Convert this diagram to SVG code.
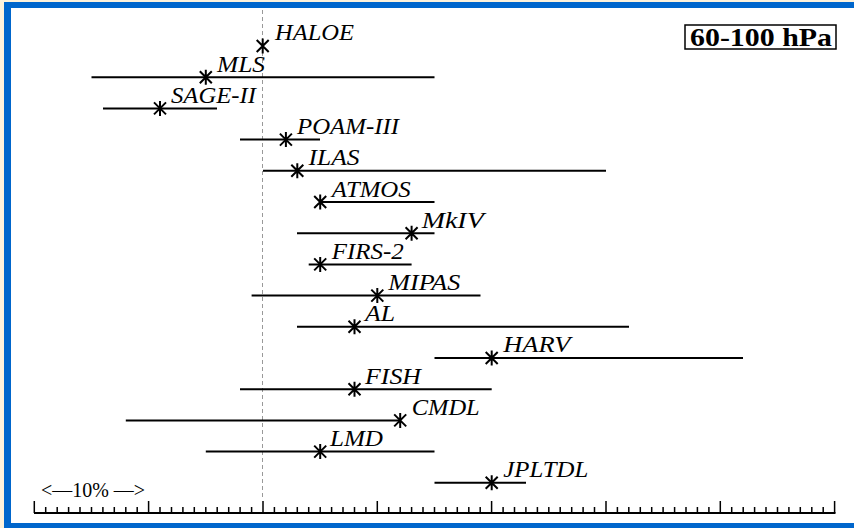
<svg xmlns="http://www.w3.org/2000/svg" width="854" height="528" viewBox="0 0 854 528">
<defs>
<style>
.bar{stroke:#000;stroke-width:2;fill:none}
.lab{font-family:"Liberation Serif","Times New Roman",serif;font-style:italic;font-size:23px;fill:#000}
.tick{stroke:#000;stroke-width:1.5}
</style>
<g id="star"><path d="M-6,-6L6,6M-6,6L6,-6M0,-7.5L0,7.5" stroke="#000" stroke-width="2" fill="none"/></g>
</defs>
<rect x="0" y="0" width="854" height="528" fill="#fdf2dc"/>
<rect x="4" y="2" width="850" height="526" fill="#0066cc"/>
<rect x="11" y="8" width="843" height="515" fill="#ffffff"/>

<line id="zero" x1="262.5" y1="10" x2="262.5" y2="500" stroke="#999" stroke-width="1" stroke-dasharray="4 3"/>

<g id="box">
<rect x="685" y="25" width="151" height="24" fill="#fff" stroke="#000" stroke-width="1.5"/>
<text x="690" y="45.5" font-family="Liberation Serif,serif" font-weight="bold" font-size="25" textLength="142" lengthAdjust="spacingAndGlyphs">60-100 hPa</text>
</g>

<g id="connectors">
<line class="bar" x1="91.5" y1="77.2" x2="434.5" y2="77.2"/>
<line class="bar" x1="103" y1="108.4" x2="217" y2="108.4"/>
<line class="bar" x1="240" y1="139.6" x2="320" y2="139.6"/>
<line class="bar" x1="263" y1="170.8" x2="606" y2="170.8"/>
<line class="bar" x1="320" y1="202" x2="434.5" y2="202"/>
<line class="bar" x1="297" y1="233.2" x2="434.5" y2="233.2"/>
<line class="bar" x1="308.7" y1="264.4" x2="411.6" y2="264.4"/>
<line class="bar" x1="251.6" y1="295.6" x2="480.5" y2="295.6"/>
<line class="bar" x1="297" y1="326.8" x2="629" y2="326.8"/>
<line class="bar" x1="434.5" y1="358" x2="743" y2="358"/>
<line class="bar" x1="240" y1="389.2" x2="491.7" y2="389.2"/>
<line class="bar" x1="125.8" y1="420.4" x2="400" y2="420.4"/>
<line class="bar" x1="205.8" y1="451.6" x2="434.5" y2="451.6"/>
<line class="bar" x1="434.5" y1="482.8" x2="526" y2="482.8"/>
</g>

<g id="HALOE"><use href="#star" x="262.7" y="46"/><text class="lab" x="275" y="40" textLength="79" lengthAdjust="spacingAndGlyphs">HALOE</text></g>
<g id="MLS"><use href="#star" x="205.8" y="77.2"/><text class="lab" x="217" y="72" textLength="48" lengthAdjust="spacingAndGlyphs">MLS</text></g>
<g id="SAGE-II"><use href="#star" x="160" y="108.4"/><text class="lab" x="171" y="102.5" textLength="85" lengthAdjust="spacingAndGlyphs">SAGE-II</text></g>
<g id="POAM-III"><use href="#star" x="285.9" y="139.6"/><text class="lab" x="297" y="134" textLength="102" lengthAdjust="spacingAndGlyphs">POAM-III</text></g>
<g id="ILAS"><use href="#star" x="297.3" y="170.8"/><text class="lab" x="308.5" y="165" textLength="51" lengthAdjust="spacingAndGlyphs">ILAS</text></g>
<g id="ATMOS"><use href="#star" x="320.2" y="202"/><text class="lab" x="331.7" y="196.5" textLength="79" lengthAdjust="spacingAndGlyphs">ATMOS</text></g>
<g id="MkIV"><use href="#star" x="411.6" y="233.2"/><text class="lab" x="421.7" y="227.5" textLength="62" lengthAdjust="spacingAndGlyphs">MkIV</text></g>
<g id="FIRS-2"><use href="#star" x="320.2" y="264.4"/><text class="lab" x="331.7" y="258.5" textLength="72" lengthAdjust="spacingAndGlyphs">FIRS-2</text></g>
<g id="MIPAS"><use href="#star" x="377.3" y="295.6"/><text class="lab" x="388.3" y="290" textLength="72" lengthAdjust="spacingAndGlyphs">MIPAS</text></g>
<g id="AL"><use href="#star" x="354.5" y="326.8"/><text class="lab" x="365" y="321" textLength="30" lengthAdjust="spacingAndGlyphs">AL</text></g>
<g id="HARV"><use href="#star" x="491.7" y="358"/><text class="lab" x="503.3" y="352" textLength="67" lengthAdjust="spacingAndGlyphs">HARV</text></g>
<g id="FISH"><use href="#star" x="354.5" y="389.2"/><text class="lab" x="365" y="383.5" textLength="56" lengthAdjust="spacingAndGlyphs">FISH</text></g>
<g id="CMDL"><use href="#star" x="400.2" y="420.4"/><text class="lab" x="411.7" y="414.5" textLength="68" lengthAdjust="spacingAndGlyphs">CMDL</text></g>
<g id="LMD"><use href="#star" x="320.2" y="451.6"/><text class="lab" x="330" y="446" textLength="53" lengthAdjust="spacingAndGlyphs">LMD</text></g>
<g id="JPLTDL"><use href="#star" x="491.7" y="482.8"/><text class="lab" x="503.3" y="477" textLength="85" lengthAdjust="spacingAndGlyphs">JPLTDL</text></g>

<g id="scale">
<text x="41" y="497" font-family="Liberation Serif,serif" font-size="20" fill="#000" textLength="104" lengthAdjust="spacingAndGlyphs">&lt;—10% —&gt;</text>
</g>

<g id="axis">
<line x1="34" y1="513" x2="835.5" y2="513" stroke="#000" stroke-width="2"/>
<path class="tick" d="M34.3,513V501M148.6,513V501M263,513V501M377.3,513V501M491.6,513V501M606,513V501M720.3,513V501M834.6,513V501"/>
<path class="tick" d="M45.7,513V507M57.2,513V507M68.6,513V507M80,513V507M91.5,513V507M102.9,513V507M114.3,513V507M125.8,513V507M137.2,513V507M160,513V507M171.5,513V507M182.9,513V507M194.3,513V507M205.8,513V507M217.2,513V507M228.7,513V507M240.1,513V507M251.6,513V507M274.4,513V507M285.9,513V507M297.3,513V507M308.7,513V507M320.2,513V507M331.6,513V507M343,513V507M354.5,513V507M365.9,513V507M388.7,513V507M400.2,513V507M411.6,513V507M423,513V507M434.5,513V507M445.9,513V507M457.3,513V507M468.8,513V507M480.2,513V507M503.1,513V507M514.5,513V507M525.9,513V507M537.4,513V507M548.8,513V507M560.2,513V507M571.7,513V507M583.1,513V507M594.5,513V507M617.4,513V507M628.8,513V507M640.3,513V507M651.7,513V507M663.1,513V507M674.6,513V507M686,513V507M697.4,513V507M708.9,513V507M731.7,513V507M743.2,513V507M754.6,513V507M766,513V507M777.5,513V507M788.9,513V507M800.3,513V507M811.8,513V507M823.2,513V507"/>
</g>
</svg>
